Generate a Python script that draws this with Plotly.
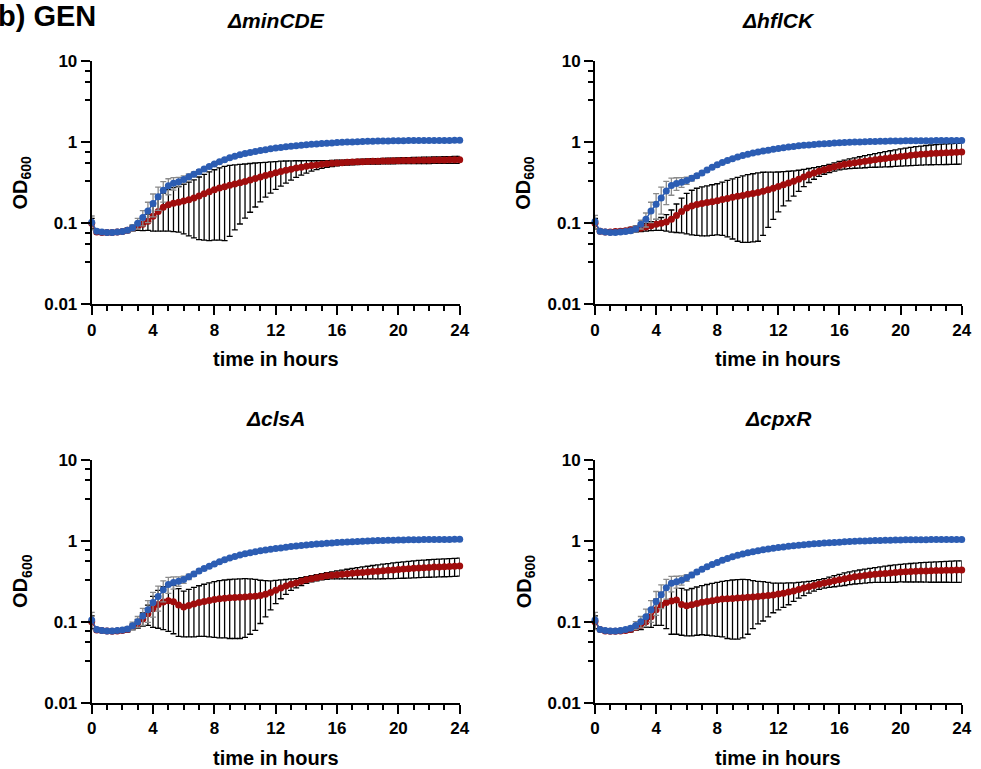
import plotly.graph_objects as go

# ---------------- data (OD600, mean and SD every 20 min) ----------------
time_min = list(range(0, 1441, 20))
time_h = [m / 60 for m in time_min]

panel_titles = ["ΔminCDE", "ΔhflCK", "ΔclsA", "ΔcpxR"]
x_tick_vals = [0, 4, 8, 12, 16, 20, 24]
x_tick_text = ["0", "4", "8", "12", "16", "20", "24"]
y_tick_vals = [0.01, 0.1, 1, 10]
y_tick_text = ["0.01", "0.1", "1", "10"]

minCDE_blue = [0.103, 0.080, 0.078, 0.077, 0.077, 0.078, 0.079, 0.082, 0.088, 0.100, 0.118, 0.142,
               0.175, 0.212, 0.255, 0.290, 0.312, 0.325, 0.348, 0.375, 0.402, 0.434, 0.469, 0.503,
               0.540, 0.575, 0.610, 0.645, 0.675, 0.703, 0.728, 0.750, 0.772, 0.792, 0.812, 0.830,
               0.848, 0.864, 0.880, 0.895, 0.908, 0.921, 0.933, 0.944, 0.955, 0.965, 0.974, 0.983,
               0.991, 0.998, 1.005, 1.011, 1.017, 1.022, 1.027, 1.031, 1.035, 1.038, 1.041, 1.044,
               1.046, 1.048, 1.050, 1.051, 1.052, 1.053, 1.054, 1.055, 1.055, 1.056, 1.056, 1.057,
               1.057]
minCDE_blue_sd = [0.020, 0.004, 0.003, 0.003, 0.003, 0.003, 0.003, 0.004, 0.008, 0.015, 0.025, 0.040,
                  0.055, 0.068, 0.072, 0.065, 0.055, 0.045, 0.038, 0.032, 0.028, 0.025, 0.022, 0.020,
                  0.020, 0.020, 0.021, 0.021, 0.022, 0.022, 0.023, 0.023, 0.024, 0.024, 0.025, 0.025,
                  0.026, 0.026, 0.027, 0.027, 0.028, 0.028, 0.029, 0.029, 0.030, 0.030, 0.031, 0.031,
                  0.032, 0.032, 0.033, 0.033, 0.034, 0.034, 0.035, 0.035, 0.036, 0.036, 0.037, 0.037,
                  0.038, 0.038, 0.039, 0.039, 0.040, 0.040, 0.041, 0.041, 0.042, 0.042, 0.043, 0.043,
                  0.044]
minCDE_red = [0.100, 0.078, 0.077, 0.077, 0.077, 0.078, 0.079, 0.082, 0.087, 0.092, 0.097, 0.106,
              0.122, 0.140, 0.158, 0.170, 0.177, 0.182, 0.188, 0.196, 0.205, 0.218, 0.232, 0.246,
              0.260, 0.272, 0.283, 0.294, 0.305, 0.316, 0.328, 0.342, 0.357, 0.372, 0.388, 0.404,
              0.420, 0.436, 0.451, 0.466, 0.480, 0.493, 0.505, 0.516, 0.526, 0.535, 0.543, 0.550,
              0.556, 0.561, 0.566, 0.570, 0.574, 0.577, 0.580, 0.583, 0.585, 0.587, 0.589, 0.591,
              0.593, 0.595, 0.597, 0.598, 0.600, 0.601, 0.602, 0.604, 0.605, 0.606, 0.607, 0.608,
              0.609]
minCDE_red_sd = [0.015, 0.004, 0.003, 0.003, 0.003, 0.003, 0.004, 0.005, 0.007, 0.010, 0.016, 0.024,
                 0.042, 0.060, 0.078, 0.090, 0.098, 0.104, 0.114, 0.126, 0.139, 0.155, 0.170, 0.185,
                 0.198, 0.210, 0.222, 0.225, 0.222, 0.218, 0.212, 0.205, 0.198, 0.188, 0.178, 0.168,
                 0.158, 0.148, 0.137, 0.124, 0.112, 0.099, 0.088, 0.076, 0.066, 0.058, 0.052, 0.048,
                 0.045, 0.043, 0.042, 0.042, 0.042, 0.043, 0.043, 0.044, 0.045, 0.046, 0.047, 0.048,
                 0.049, 0.050, 0.051, 0.052, 0.053, 0.054, 0.055, 0.056, 0.057, 0.058, 0.059, 0.060,
                 0.060]

hflCK_blue = [0.105, 0.080, 0.078, 0.077, 0.077, 0.078, 0.079, 0.081, 0.085, 0.097, 0.112, 0.142,
              0.172, 0.205, 0.250, 0.292, 0.310, 0.322, 0.337, 0.360, 0.386, 0.418, 0.455, 0.492,
              0.528, 0.562, 0.596, 0.628, 0.658, 0.686, 0.712, 0.736, 0.758, 0.779, 0.800, 0.820,
              0.840, 0.858, 0.875, 0.890, 0.904, 0.917, 0.929, 0.940, 0.950, 0.960, 0.969, 0.977,
              0.985, 0.992, 0.999, 1.005, 1.011, 1.016, 1.021, 1.025, 1.029, 1.032, 1.035, 1.038,
              1.040, 1.042, 1.044, 1.045, 1.046, 1.047, 1.048, 1.049, 1.049, 1.050, 1.050, 1.051,
              1.051]
hflCK_blue_sd = [0.020, 0.004, 0.003, 0.003, 0.003, 0.003, 0.003, 0.004, 0.007, 0.012, 0.022, 0.040,
                 0.060, 0.075, 0.080, 0.070, 0.055, 0.045, 0.035, 0.028, 0.024, 0.022, 0.020, 0.020,
                 0.020, 0.020, 0.021, 0.021, 0.022, 0.022, 0.023, 0.023, 0.024, 0.024, 0.025, 0.025,
                 0.026, 0.026, 0.027, 0.027, 0.028, 0.028, 0.029, 0.029, 0.030, 0.030, 0.031, 0.031,
                 0.032, 0.032, 0.033, 0.033, 0.034, 0.034, 0.035, 0.035, 0.036, 0.036, 0.037, 0.037,
                 0.038, 0.038, 0.039, 0.039, 0.040, 0.040, 0.041, 0.041, 0.042, 0.042, 0.043, 0.043,
                 0.044]
hflCK_red = [0.100, 0.080, 0.078, 0.078, 0.079, 0.080, 0.081, 0.083, 0.085, 0.087, 0.090, 0.093,
             0.097, 0.100, 0.104, 0.112, 0.125, 0.140, 0.154, 0.164, 0.171, 0.176, 0.180, 0.185,
             0.190, 0.197, 0.203, 0.209, 0.215, 0.221, 0.228, 0.234, 0.240, 0.249, 0.259, 0.270,
             0.284, 0.299, 0.314, 0.330, 0.350, 0.373, 0.397, 0.418, 0.439, 0.459, 0.479, 0.499,
             0.518, 0.534, 0.548, 0.561, 0.572, 0.584, 0.597, 0.609, 0.620, 0.631, 0.643, 0.656,
             0.668, 0.679, 0.690, 0.700, 0.710, 0.719, 0.727, 0.733, 0.739, 0.744, 0.749, 0.754,
             0.758]
hflCK_red_sd = [0.015, 0.004, 0.003, 0.003, 0.004, 0.004, 0.005, 0.006, 0.007, 0.008, 0.010, 0.012,
                0.015, 0.018, 0.024, 0.034, 0.048, 0.064, 0.080, 0.092, 0.100, 0.106, 0.110, 0.114,
                0.118, 0.126, 0.135, 0.145, 0.155, 0.163, 0.170, 0.175, 0.180, 0.178, 0.170, 0.158,
                0.146, 0.135, 0.125, 0.114, 0.102, 0.090, 0.078, 0.068, 0.060, 0.056, 0.056, 0.058,
                0.062, 0.068, 0.075, 0.083, 0.091, 0.099, 0.108, 0.117, 0.126, 0.135, 0.144, 0.152,
                0.160, 0.168, 0.175, 0.182, 0.188, 0.194, 0.199, 0.204, 0.208, 0.212, 0.215, 0.218,
                0.220]

clsA_blue = [0.105, 0.080, 0.078, 0.077, 0.077, 0.078, 0.079, 0.081, 0.089, 0.100, 0.118, 0.140,
             0.172, 0.205, 0.248, 0.288, 0.305, 0.316, 0.332, 0.358, 0.388, 0.422, 0.453, 0.484,
             0.515, 0.548, 0.580, 0.610, 0.638, 0.665, 0.690, 0.712, 0.732, 0.751, 0.768, 0.785,
             0.800, 0.815, 0.830, 0.845, 0.859, 0.872, 0.885, 0.897, 0.908, 0.919, 0.929, 0.939,
             0.948, 0.957, 0.965, 0.973, 0.980, 0.987, 0.993, 0.998, 1.003, 1.008, 1.012, 1.016,
             1.020, 1.023, 1.026, 1.028, 1.030, 1.032, 1.034, 1.035, 1.036, 1.037, 1.038, 1.039,
             1.040]
clsA_blue_sd = [0.025, 0.004, 0.003, 0.003, 0.003, 0.003, 0.003, 0.005, 0.010, 0.016, 0.028, 0.042,
                0.058, 0.070, 0.072, 0.064, 0.052, 0.042, 0.034, 0.028, 0.024, 0.022, 0.021, 0.020,
                0.020, 0.020, 0.021, 0.021, 0.022, 0.022, 0.023, 0.023, 0.024, 0.024, 0.025, 0.025,
                0.026, 0.026, 0.027, 0.027, 0.028, 0.028, 0.029, 0.029, 0.030, 0.030, 0.031, 0.031,
                0.032, 0.032, 0.033, 0.033, 0.034, 0.034, 0.035, 0.035, 0.036, 0.036, 0.037, 0.037,
                0.038, 0.038, 0.039, 0.039, 0.040, 0.040, 0.041, 0.041, 0.042, 0.042, 0.043, 0.043,
                0.044]
clsA_red = [0.100, 0.079, 0.078, 0.077, 0.076, 0.077, 0.078, 0.080, 0.087, 0.095, 0.108, 0.125,
            0.145, 0.163, 0.175, 0.181, 0.176, 0.161, 0.152, 0.158, 0.165, 0.172, 0.178, 0.183,
            0.188, 0.192, 0.195, 0.197, 0.199, 0.200, 0.202, 0.204, 0.206, 0.210, 0.218, 0.230,
            0.245, 0.260, 0.275, 0.290, 0.301, 0.315, 0.329, 0.340, 0.350, 0.360, 0.368, 0.375,
            0.381, 0.386, 0.391, 0.396, 0.401, 0.406, 0.411, 0.416, 0.421, 0.426, 0.431, 0.436,
            0.441, 0.446, 0.451, 0.456, 0.460, 0.464, 0.468, 0.472, 0.475, 0.478, 0.481, 0.484,
            0.487]
clsA_red_sd = [0.018, 0.004, 0.003, 0.003, 0.003, 0.003, 0.004, 0.005, 0.007, 0.012, 0.020, 0.035,
               0.060, 0.080, 0.095, 0.105, 0.105, 0.095, 0.087, 0.093, 0.100, 0.106, 0.112, 0.118,
               0.124, 0.129, 0.132, 0.135, 0.137, 0.138, 0.138, 0.134, 0.128, 0.115, 0.103, 0.090,
               0.078, 0.068, 0.057, 0.047, 0.040, 0.035, 0.032, 0.030, 0.030, 0.031, 0.034, 0.038,
               0.043, 0.048, 0.053, 0.058, 0.063, 0.068, 0.073, 0.078, 0.083, 0.087, 0.091, 0.095,
               0.099, 0.102, 0.105, 0.108, 0.110, 0.112, 0.114, 0.116, 0.118, 0.119, 0.120, 0.121,
               0.122]

cpxR_blue = [0.105, 0.080, 0.078, 0.077, 0.077, 0.078, 0.080, 0.083, 0.090, 0.100, 0.115, 0.140,
             0.178, 0.215, 0.262, 0.298, 0.312, 0.325, 0.348, 0.378, 0.410, 0.443, 0.476, 0.508,
             0.540, 0.572, 0.602, 0.632, 0.660, 0.686, 0.710, 0.732, 0.753, 0.772, 0.790, 0.807,
             0.823, 0.838, 0.852, 0.866, 0.879, 0.891, 0.903, 0.914, 0.924, 0.934, 0.943, 0.952,
             0.960, 0.968, 0.975, 0.982, 0.988, 0.994, 0.999, 1.004, 1.008, 1.012, 1.016, 1.019,
             1.022, 1.024, 1.026, 1.028, 1.030, 1.031, 1.032, 1.033, 1.034, 1.035, 1.036, 1.036,
             1.037]
cpxR_blue_sd = [0.025, 0.004, 0.003, 0.003, 0.003, 0.003, 0.003, 0.005, 0.010, 0.016, 0.028, 0.042,
                0.058, 0.070, 0.072, 0.064, 0.052, 0.042, 0.034, 0.028, 0.024, 0.022, 0.021, 0.020,
                0.020, 0.020, 0.021, 0.021, 0.022, 0.022, 0.023, 0.023, 0.024, 0.024, 0.025, 0.025,
                0.026, 0.026, 0.027, 0.027, 0.028, 0.028, 0.029, 0.029, 0.030, 0.030, 0.031, 0.031,
                0.032, 0.032, 0.033, 0.033, 0.034, 0.034, 0.035, 0.035, 0.036, 0.036, 0.037, 0.037,
                0.038, 0.038, 0.039, 0.039, 0.040, 0.040, 0.041, 0.041, 0.042, 0.042, 0.043, 0.043,
                0.044]
cpxR_red = [0.100, 0.080, 0.077, 0.076, 0.076, 0.077, 0.078, 0.080, 0.085, 0.090, 0.100, 0.115,
            0.140, 0.160, 0.172, 0.180, 0.185, 0.163, 0.157, 0.162, 0.168, 0.174, 0.178, 0.182,
            0.186, 0.190, 0.192, 0.194, 0.196, 0.198, 0.200, 0.202, 0.204, 0.207, 0.210, 0.214,
            0.220, 0.225, 0.232, 0.240, 0.250, 0.260, 0.270, 0.280, 0.290, 0.300, 0.310, 0.320,
            0.330, 0.340, 0.350, 0.358, 0.365, 0.372, 0.380, 0.385, 0.390, 0.395, 0.400, 0.405,
            0.410, 0.413, 0.416, 0.419, 0.422, 0.424, 0.426, 0.428, 0.430, 0.432, 0.433, 0.434,
            0.435]
cpxR_red_sd = [0.018, 0.004, 0.003, 0.003, 0.003, 0.003, 0.004, 0.005, 0.007, 0.010, 0.015, 0.030,
               0.050, 0.070, 0.090, 0.110, 0.115, 0.095, 0.090, 0.095, 0.100, 0.105, 0.110, 0.115,
               0.120, 0.125, 0.130, 0.133, 0.135, 0.135, 0.130, 0.120, 0.110, 0.105, 0.095, 0.085,
               0.080, 0.075, 0.070, 0.062, 0.055, 0.050, 0.045, 0.042, 0.040, 0.040, 0.045, 0.050,
               0.055, 0.060, 0.063, 0.066, 0.070, 0.073, 0.076, 0.080, 0.085, 0.090, 0.094, 0.098,
               0.100, 0.104, 0.107, 0.110, 0.113, 0.116, 0.119, 0.121, 0.123, 0.125, 0.127, 0.129,
               0.130]

panels = [
    (minCDE_blue, minCDE_blue_sd, minCDE_red, minCDE_red_sd),
    (hflCK_blue, hflCK_blue_sd, hflCK_red, hflCK_red_sd),
    (clsA_blue, clsA_blue_sd, clsA_red, clsA_red_sd),
    (cpxR_blue, cpxR_blue_sd, cpxR_red, cpxR_red_sd),
]
for p in panels:
    for arr in p:
        assert len(arr) == len(time_h)

# ---------------- style / layout ----------------
W, H = 981, 769
BLUE = "#2C5DB3"
RED = "#A00D0D"
FONT = "Liberation Sans"

# axis domains in pixels: (x0, x1) and (y_top, y_bottom)
x_px = [(91.7, 459.7), (595.0, 961.7), (91.7, 459.7), (595.0, 961.7)]
y_px = [(61.3, 304.3), (61.3, 304.3), (459.7, 702.7), (459.7, 702.7)]

minor_x = [h for h in range(25) if h % 4 != 0]
minor_y = [0.033, 0.056, 0.076, 0.33, 0.56, 0.76, 3.3, 5.6, 7.6]

fig = go.Figure()
annotations = []
layout = {}

for i, (blue, blue_sd, red, red_sd) in enumerate(panels):
    n = i + 1
    xa = "x" if n == 1 else f"x{n}"
    ya = "y" if n == 1 else f"y{n}"
    fig.add_trace(go.Scatter(
        x=time_h, y=red, xaxis=xa, yaxis=ya, mode="lines+markers",
        line=dict(color=RED, width=1.5), marker=dict(color=RED, size=7),
        error_y=dict(type="data", array=red_sd, color="black", thickness=1.3, width=3),
        cliponaxis=False, showlegend=False))
    fig.add_trace(go.Scatter(
        x=time_h, y=blue, xaxis=xa, yaxis=ya, mode="lines+markers",
        line=dict(color=BLUE, width=1.5), marker=dict(color=BLUE, size=7),
        error_y=dict(type="data", array=blue_sd, color="#8a8a8a", thickness=1.3, width=3),
        cliponaxis=False, showlegend=False))

    x0, x1 = x_px[i]
    yt, yb = y_px[i]
    tickfont = dict(family=FONT, size=17, color="black", weight="bold")
    layout["xaxis" if n == 1 else f"xaxis{n}"] = dict(
        domain=[x0 / W, x1 / W], anchor=ya, range=[0, 24], automargin=False,
        tickmode="array", tickvals=x_tick_vals, ticktext=x_tick_text,
        ticks="outside", ticklen=9, tickwidth=2, tickcolor="black",
        showline=True, linewidth=2, linecolor="black", showgrid=False, zeroline=False,
        tickfont=tickfont,
        minor=dict(tickmode="array", tickvals=minor_x, ticks="outside", ticklen=5,
                   tickwidth=2, tickcolor="black", showgrid=False))
    layout["yaxis" if n == 1 else f"yaxis{n}"] = dict(
        domain=[1 - yb / H, 1 - yt / H], anchor=xa, type="log", range=[-2, 1], automargin=False,
        tickmode="array", tickvals=y_tick_vals, ticktext=y_tick_text,
        ticks="outside", ticklen=9, tickwidth=2, tickcolor="black",
        showline=True, linewidth=2, linecolor="black", showgrid=False, zeroline=False,
        tickfont=tickfont,
        minor=dict(tickmode="array", tickvals=minor_y, ticks="outside", ticklen=5,
                   tickwidth=2, tickcolor="black", showgrid=False))

    xc = (x0 + x1) / 2
    # panel title
    annotations.append(dict(
        text=f"<b><i>{panel_titles[i]}</i></b>", x=xc / W, y=1 - (yt - 41) / H,
        xref="paper", yref="paper", xanchor="center", yanchor="middle", showarrow=False,
        font=dict(family=FONT, size=21, color="black")))
    # x axis title
    annotations.append(dict(
        text="<b>time in hours</b>", x=xc / W, y=1 - (yb + 55) / H,
        xref="paper", yref="paper", xanchor="center", yanchor="middle", showarrow=False,
        font=dict(family=FONT, size=20, color="black")))
    # y axis title
    annotations.append(dict(
        text="<b>OD<sub>600</sub></b>", x=(x0 - 70) / W, y=1 - ((yt + yb) / 2) / H,
        xref="paper", yref="paper", xanchor="center", yanchor="middle", showarrow=False,
        textangle=-90, font=dict(family=FONT, size=20, color="black")))

annotations.append(dict(
    text="<b>b) GEN</b>", x=-4 / W, y=1 - 16 / H, xref="paper", yref="paper",
    xanchor="left", yanchor="middle", showarrow=False,
    font=dict(family=FONT, size=29, color="black")))

fig.update_layout(
    width=W, height=H, margin=dict(l=0, r=0, t=0, b=0, autoexpand=False),
    paper_bgcolor="white", plot_bgcolor="white",
    annotations=annotations, showlegend=False, **layout)

fig.write_html("out.html", config={"displayModeBar": False},
               post_script="document.body.style.margin='0px';document.body.style.overflow='hidden';")
